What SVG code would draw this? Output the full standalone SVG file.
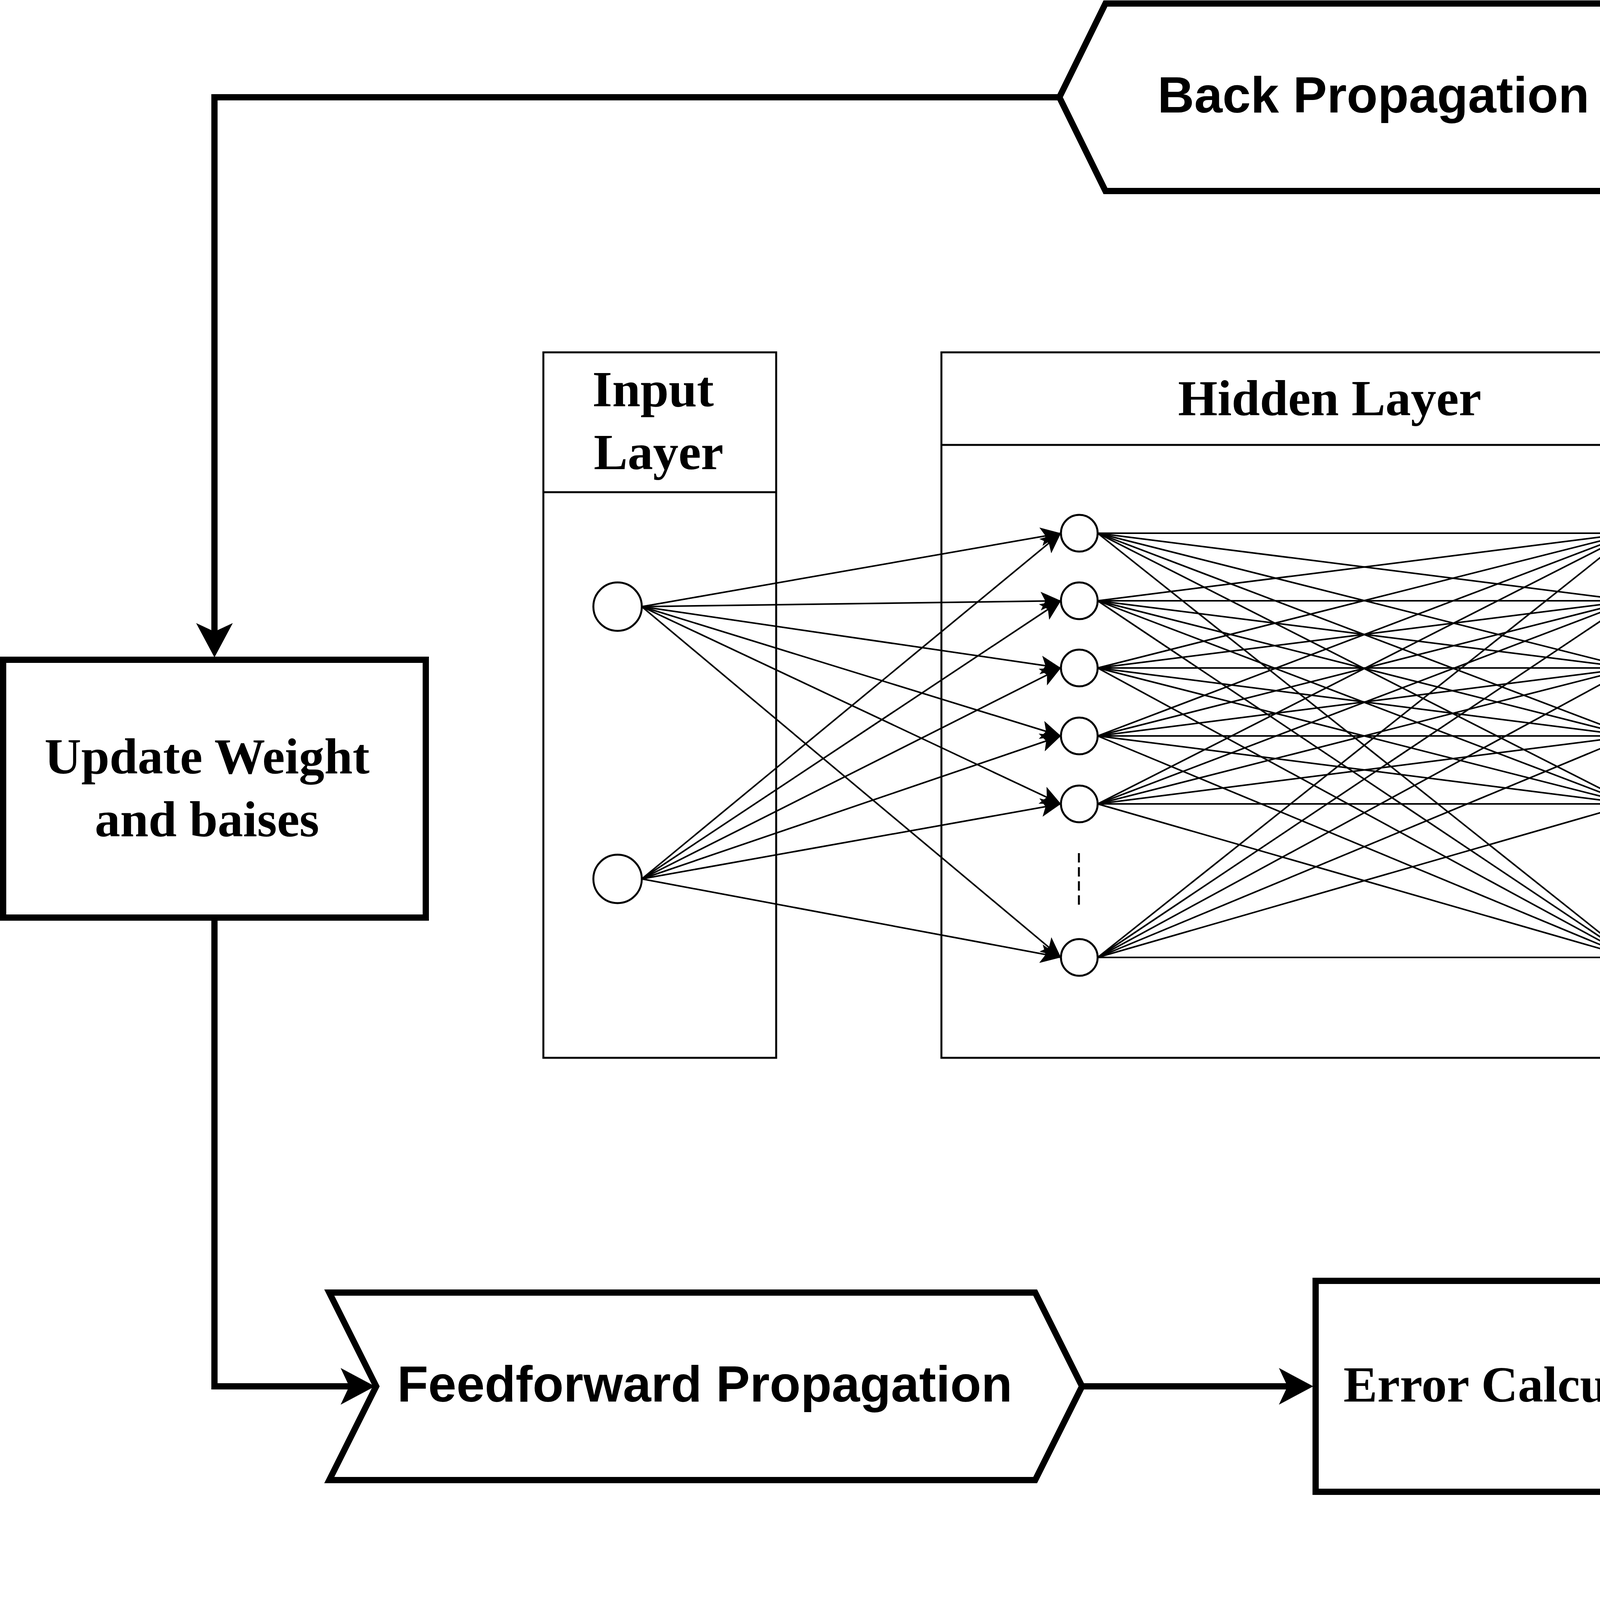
<svg xmlns="http://www.w3.org/2000/svg" width="6156" height="5178" viewBox="0 0 6156 5178">
<defs>
<marker id="arrL" viewBox="0 0 88 94" refX="22" refY="47" markerWidth="88" markerHeight="94" markerUnits="userSpaceOnUse" orient="auto"><path d="M0,0 L88,47 L0,94 L22,47 Z" fill="#000"/></marker>
<marker id="arrS" viewBox="0 0 52 48" refX="52" refY="24" markerWidth="52" markerHeight="48" markerUnits="userSpaceOnUse" orient="auto"><path d="M0,0 L52,24 L0,48 L12,24 Z" fill="#000"/></marker>
<style>
.box{fill:none;stroke:#000;stroke-width:5}
.hdr{stroke:#000;stroke-width:5}
.main{fill:#fff;stroke:#000;stroke-width:16}
.neu{fill:#fff;stroke:#000;stroke-width:5}
.nn{fill:none;stroke:#000;stroke-width:4;marker-end:url(#arrS)}
.flow{fill:none;stroke:#000;stroke-width:16;marker-end:url(#arrL)}
.dash{stroke:#000;stroke-width:5;stroke-dasharray:24 12}
.serb{font-family:"Liberation Serif","Times New Roman",serif;font-weight:bold;font-size:130px;text-anchor:middle;fill:#000}
.sanb{font-family:"Liberation Sans",Arial,sans-serif;font-weight:bold;font-size:130px;text-anchor:middle;fill:#000}
.ser{font-family:"Liberation Serif","Times New Roman",serif;font-size:130px;fill:#000}
</style>
</defs>
<rect width="6156" height="5178" fill="#fff"/>

<g id="input-layer">
<rect class="box" x="1391" y="902" width="596" height="1806"/>
<line class="hdr" x1="1391" y1="1260" x2="1987" y2="1260"/>
<text class="serb" x="1672" y="1040">Input</text>
<text class="serb" x="1686" y="1201">Layer</text>
</g>
<g id="hidden-layer">
<rect class="box" x="2410" y="902" width="1994" height="1806"/>
<line class="hdr" x1="2410" y1="1139" x2="4404" y2="1139"/>
<text class="serb" x="3404" y="1063">Hidden Layer</text>
</g>
<g id="output-layer">
<rect class="box" x="4762" y="971" width="646" height="1737"/>
<line class="hdr" x1="4762" y1="1328" x2="5408" y2="1328"/>
<text class="serb" x="5085" y="1110">Output</text>
<text class="serb" x="5081" y="1271">Layer</text>
</g>

<g id="neurons">
<g id="in1"><circle class="neu" cx="1581" cy="1553" r="62"/></g>
<g id="in2"><circle class="neu" cx="1581" cy="2250" r="62"/></g>
<g id="h1-1"><circle class="neu" cx="2763" cy="1365" r="47"/></g>
<g id="h1-2"><circle class="neu" cx="2763" cy="1538" r="47"/></g>
<g id="h1-3"><circle class="neu" cx="2763" cy="1710" r="47"/></g>
<g id="h1-4"><circle class="neu" cx="2763" cy="1884" r="47"/></g>
<g id="h1-5"><circle class="neu" cx="2763" cy="2058" r="47"/></g>
<g id="h1-6"><circle class="neu" cx="2763" cy="2451" r="47"/></g>
<g id="h2-1"><circle class="neu" cx="4222" cy="1365" r="47"/></g>
<g id="h2-2"><circle class="neu" cx="4222" cy="1538" r="47"/></g>
<g id="h2-3"><circle class="neu" cx="4222" cy="1710" r="47"/></g>
<g id="h2-4"><circle class="neu" cx="4222" cy="1884" r="47"/></g>
<g id="h2-5"><circle class="neu" cx="4222" cy="2058" r="47"/></g>
<g id="h2-6"><circle class="neu" cx="4222" cy="2451" r="47"/></g>
<g id="out1"><circle class="neu" cx="5114" cy="1553" r="62"/></g>
<g id="out2"><circle class="neu" cx="5146" cy="2270" r="62"/></g>
<line class="dash" x1="2762" y1="2184" x2="2762" y2="2316"/>
<line class="dash" x1="4232" y1="2205" x2="4232" y2="2337"/>
</g>

<g id="back-propagation">
<polygon class="main" points="2712,249 2830,9 4335,9 4217,249 4335,489 2830,489"/>
<text class="sanb" x="3516" y="288">Back Propagation</text>
</g>
<g id="update-weight">
<rect class="main" x="8" y="1689" width="1082" height="660"/>
<text class="serb" x="530" y="1980">Update Weight</text>
<text class="serb" x="530" y="2141">and baises</text>
</g>
<g id="feedforward">
<polygon class="main" points="843,3309 2650,3309 2770,3549 2650,3789 843,3789 963,3549"/>
<text class="sanb" x="1804" y="3588">Feedforward Propagation</text>
</g>
<g id="error-calculation">
<rect class="main" x="3368" y="3279" width="1142" height="540"/>
<text class="serb" x="3937" y="3588">Error Calculation</text>
</g>
<g id="error-decision">
<polygon class="main" points="5393,3080 5860,3548 5393,4015 4925,3548"/>
<text class="serb" x="5389" y="3588">Error?</text>
</g>
<g id="end-training">
<rect class="main" x="4860" y="4808" width="1066" height="358"/>
<text class="serb" x="5394" y="5027">End Training</text>
</g>

<g id="connectors">
<path class="flow" d="M2712,249 H549 V1617"/>
<path class="flow" d="M549,2349 V3549 H894"/>
<path class="flow" d="M2770,3549 H3296"/>
<path class="flow" d="M4510,3549 H4855"/>
<path class="flow" d="M5860,3548 H5950 V249 H4285"/>
<path class="flow" d="M5393,4015 V4734"/>
<text class="ser" x="5988" y="3197">No</text>
<text class="ser" x="5433" y="4463">Yes</text>

<path class="nn" d="M1643,1553 L2716,1365"/>
<path class="nn" d="M1643,1553 L2716,1538"/>
<path class="nn" d="M1643,1553 L2716,1710"/>
<path class="nn" d="M1643,1553 L2716,1884"/>
<path class="nn" d="M1643,1553 L2716,2058"/>
<path class="nn" d="M1643,1553 L2716,2451"/>
<path class="nn" d="M1643,2250 L2716,1365"/>
<path class="nn" d="M1643,2250 L2716,1538"/>
<path class="nn" d="M1643,2250 L2716,1710"/>
<path class="nn" d="M1643,2250 L2716,1884"/>
<path class="nn" d="M1643,2250 L2716,2058"/>
<path class="nn" d="M1643,2250 L2716,2451"/>

<path class="nn" d="M2810,1365 L4175,1365"/>
<path class="nn" d="M2810,1365 L4175,1538"/>
<path class="nn" d="M2810,1365 L4175,1710"/>
<path class="nn" d="M2810,1365 L4175,1884"/>
<path class="nn" d="M2810,1365 L4175,2058"/>
<path class="nn" d="M2810,1365 L4175,2451"/>
<path class="nn" d="M2810,1538 L4175,1365"/>
<path class="nn" d="M2810,1538 L4175,1538"/>
<path class="nn" d="M2810,1538 L4175,1710"/>
<path class="nn" d="M2810,1538 L4175,1884"/>
<path class="nn" d="M2810,1538 L4175,2058"/>
<path class="nn" d="M2810,1538 L4175,2451"/>
<path class="nn" d="M2810,1710 L4175,1365"/>
<path class="nn" d="M2810,1710 L4175,1538"/>
<path class="nn" d="M2810,1710 L4175,1710"/>
<path class="nn" d="M2810,1710 L4175,1884"/>
<path class="nn" d="M2810,1710 L4175,2058"/>
<path class="nn" d="M2810,1710 L4175,2451"/>
<path class="nn" d="M2810,1884 L4175,1365"/>
<path class="nn" d="M2810,1884 L4175,1538"/>
<path class="nn" d="M2810,1884 L4175,1710"/>
<path class="nn" d="M2810,1884 L4175,1884"/>
<path class="nn" d="M2810,1884 L4175,2058"/>
<path class="nn" d="M2810,1884 L4175,2451"/>
<path class="nn" d="M2810,2058 L4175,1365"/>
<path class="nn" d="M2810,2058 L4175,1538"/>
<path class="nn" d="M2810,2058 L4175,1710"/>
<path class="nn" d="M2810,2058 L4175,1884"/>
<path class="nn" d="M2810,2058 L4175,2058"/>
<path class="nn" d="M2810,2058 L4175,2451"/>
<path class="nn" d="M2810,2451 L4175,1365"/>
<path class="nn" d="M2810,2451 L4175,1538"/>
<path class="nn" d="M2810,2451 L4175,1710"/>
<path class="nn" d="M2810,2451 L4175,1884"/>
<path class="nn" d="M2810,2451 L4175,2058"/>
<path class="nn" d="M2810,2451 L4175,2451"/>

<path class="nn" d="M4269,1365 L5052,1553"/>
<path class="nn" d="M4269,1538 L5052,1553"/>
<path class="nn" d="M4269,1710 L5052,1553"/>
<path class="nn" d="M4269,1884 L5052,1553"/>
<path class="nn" d="M4269,2058 L5052,1553"/>
<path class="nn" d="M4269,2451 L5052,1553"/>
<path class="nn" d="M4269,1365 L5084,2270"/>
<path class="nn" d="M4269,1538 L5084,2270"/>
<path class="nn" d="M4269,1710 L5084,2270"/>
<path class="nn" d="M4269,1884 L5084,2270"/>
<path class="nn" d="M4269,2058 L5084,2270"/>
<path class="nn" d="M4269,2451 L5084,2270"/>
</g>
</svg>
